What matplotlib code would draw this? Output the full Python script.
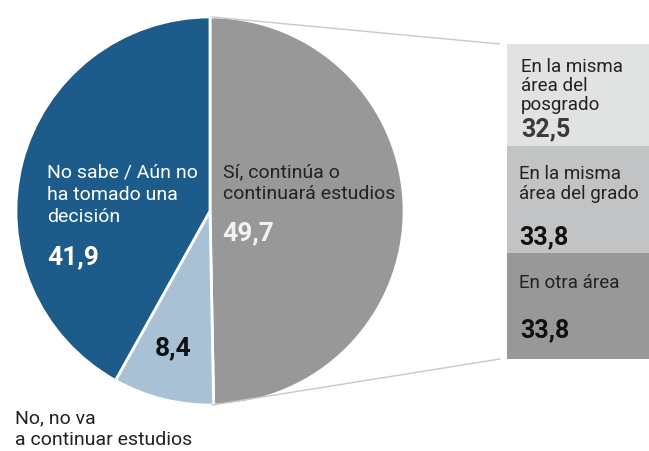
import matplotlib

matplotlib.use("Agg", force=True)
import matplotlib.pyplot as plt
from matplotlib.patches import ConnectionPatch

W, H = 649, 451

# pie data
pie_labels = ["Sí, continúa o\ncontinuará estudios", "No, no va\na continuar estudios",
              "No sabe / Aún no\nha tomado una\ndecisión"]
pie_values = [49.7, 8.4, 41.9]
pie_colors = ["#979897", "#a8c1d5", "#1c5b8a"]

# breakdown of "Sí"
bar_labels = ["En la misma\nárea del\nposgrado", "En la misma\nárea del grado", "En otra área"]
bar_values = [32.5, 33.8, 33.8]
bar_colors = ["#e1e2e2", "#c2c3c4", "#979897"]

plt.rcParams["font.family"] = ["Roboto", "DejaVu Sans"]

fig = plt.figure(figsize=(W / 100, H / 100), dpi=100)


def fx(x):
    return x / W


def fy(y):
    return 1 - y / H


# pie axes: center (210, 211), radius 196 px
cx, cy, r = 210, 211, 196
ax_pie = fig.add_axes([fx(cx - r), fy(cy + r), 2 * r / W, 2 * r / H])
ax_pie.pie(pie_values, colors=pie_colors, startangle=90, counterclock=False,
           wedgeprops=dict(edgecolor="white", linewidth=2))
ax_pie.set_xlim(-1.01, 1.01)
ax_pie.set_ylim(-1.01, 1.01)
ax_pie.axis("off")

# stacked bar axes
bx0, bx1, by0, by1 = 507, 649, 44, 359
ax_bar = fig.add_axes([fx(bx0), fy(by1), (bx1 - bx0) / W, (by1 - by0) / H])
bottom = 0
for v, c in zip(bar_values, bar_colors):
    ax_bar.bar(0, v, bottom=bottom, width=1, color=c, edgecolor="none")
    bottom += v
ax_bar.set_xlim(-0.5, 0.5)
ax_bar.set_ylim(bottom, 0)
ax_bar.axis("off")

# connector lines
for ypie, ybar in [(1, 0), (-1, bottom)]:
    con = ConnectionPatch(xyA=(0.01, ypie), coordsA=ax_pie.transData,
                          xyB=(-0.55, ybar), coordsB=ax_bar.transData,
                          color="#c8c8c8", linewidth=1)
    fig.add_artist(con)

txt = dict(va="center", ha="left")

# pie labels
fig.text(fx(223), fy(183), pie_labels[0], fontsize=14, color="#222222",
         linespacing=1.3, **txt)
fig.text(fx(222), fy(233), "49,7", fontsize=19, fontweight="bold", color="#f2f2f2", **txt)
fig.text(fx(47), fy(195), pie_labels[2], fontsize=14, color="white",
         linespacing=1.3, **txt)
fig.text(fx(47), fy(257), "41,9", fontsize=19, fontweight="bold", color="white", **txt)
fig.text(fx(155), fy(348), "8,4", fontsize=19, fontweight="bold", color="#111111", **txt)
fig.text(fx(15), fy(429), pie_labels[1], fontsize=14, color="#222222",
         linespacing=1.3, **txt)

# bar labels
fig.text(fx(521), fy(86), bar_labels[0], fontsize=13.5, color="#222222",
         linespacing=1.1, **txt)
fig.text(fx(521), fy(129), "32,5", fontsize=18, fontweight="bold", color="#3a3a3a", **txt)
fig.text(fx(519), fy(184), bar_labels[1], fontsize=13.5, color="#222222",
         linespacing=1.15, **txt)
fig.text(fx(519), fy(237), "33,8", fontsize=18, fontweight="bold", color="#111111", **txt)
fig.text(fx(519), fy(283), bar_labels[2], fontsize=13.5, color="#222222", **txt)
fig.text(fx(520), fy(330), "33,8", fontsize=18, fontweight="bold", color="#111111", **txt)

fig.savefig("out.png", dpi=100)
